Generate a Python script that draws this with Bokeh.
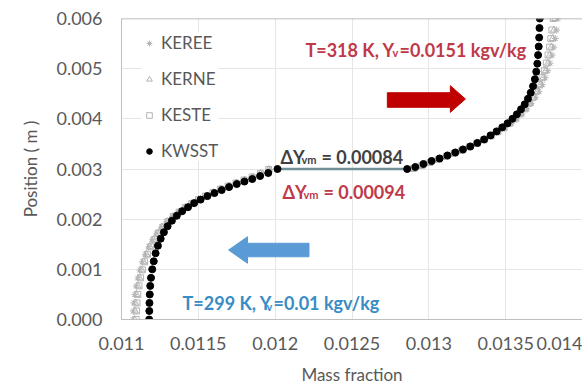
from bokeh.plotting import figure
from bokeh.models import (Legend, LegendItem, Span, Label, Range1d, FixedTicker,
                          PolyAnnotation)
from bokeh.embed import file_html
from bokeh.resources import INLINE

# ---------------- data ----------------
x_ticks = [0.011, 0.0115, 0.012, 0.0125, 0.013, 0.0135, 0.014]
x_tick_labels = ["0.011", "0.0115", "0.012", "0.0125", "0.013", "0.0135", "0.014"]
y_ticks = [0.000, 0.001, 0.002, 0.003, 0.004, 0.005, 0.006]
y_tick_labels = ["0.000", "0.001", "0.002", "0.003", "0.004", "0.005", "0.006"]

kwsst_x = [0.011180, 0.011181, 0.011182, 0.011184, 0.011187, 0.011192, 0.011200, 0.011210,
           0.011222, 0.011237, 0.011255, 0.011276, 0.011300, 0.011328, 0.011360, 0.011395,
           0.011433, 0.011473, 0.011515, 0.011559, 0.011605, 0.011652, 0.011700, 0.011750,
           0.011800, 0.011851, 0.011902, 0.011955, 0.012015,
           0.012859, 0.012912, 0.012965, 0.013018, 0.013070, 0.013121, 0.013172, 0.013222,
           0.013270, 0.013316, 0.013360, 0.013402, 0.013441, 0.013478, 0.013512, 0.013544,
           0.013573, 0.013600, 0.013624, 0.013645, 0.013663, 0.013678, 0.013690, 0.013699,
           0.013706, 0.013711, 0.013715, 0.013718, 0.013720, 0.013722]
kwsst_y = [0.00000, 0.00017, 0.00033, 0.00050, 0.00067, 0.00083, 0.00100, 0.00116,
           0.00132, 0.00147, 0.00161, 0.00174, 0.00186, 0.00197, 0.00207, 0.00216,
           0.00224, 0.00232, 0.00239, 0.00246, 0.00252, 0.00258, 0.00264, 0.00270,
           0.00275, 0.00280, 0.00286, 0.00292, 0.00300,
           0.00300, 0.00304, 0.00310, 0.00316, 0.00321, 0.00327, 0.00333, 0.00339,
           0.00345, 0.00352, 0.00359, 0.00367, 0.00375, 0.00383, 0.00391, 0.00400,
           0.00409, 0.00419, 0.00429, 0.00440, 0.00452, 0.00465, 0.00479, 0.00494,
           0.00510, 0.00527, 0.00544, 0.00562, 0.00581, 0.00600]

gray_y = [0.00000, 0.00017, 0.00033, 0.00050, 0.00067, 0.00083, 0.00099, 0.00115,
          0.00130, 0.00145, 0.00159, 0.00172, 0.00184, 0.00195, 0.00205, 0.00214,
          0.00223, 0.00231, 0.00239, 0.00246, 0.00253, 0.00260, 0.00266, 0.00272,
          0.00278, 0.00284, 0.00291, 0.00299,
          0.00301, 0.00307, 0.00313, 0.00319, 0.00325, 0.00331, 0.00337, 0.00344,
          0.00351, 0.00358, 0.00366, 0.00374, 0.00382, 0.00391, 0.00400, 0.00410,
          0.00420, 0.00431, 0.00443, 0.00455, 0.00468, 0.00482, 0.00496, 0.00511,
          0.00527, 0.00543, 0.00560, 0.00577, 0.00600]

keree_x = [0.011075, 0.011077, 0.011081, 0.011088, 0.011097, 0.011108, 0.011121, 0.011137,
           0.011156, 0.011178, 0.011203, 0.011231, 0.011262, 0.011296, 0.011333, 0.011373,
           0.011415, 0.011459, 0.011505, 0.011553, 0.011602, 0.011652, 0.011703, 0.011754,
           0.011806, 0.011858, 0.011910, 0.011962,
           0.012904, 0.012958, 0.013012, 0.013065, 0.013118, 0.013170, 0.013220, 0.013270,
           0.013318, 0.013365, 0.013410, 0.013453, 0.013495, 0.013534, 0.013571, 0.013605,
           0.013637, 0.013666, 0.013693, 0.013717, 0.013738, 0.013757, 0.013774, 0.013789,
           0.013802, 0.013813, 0.013823, 0.013832, 0.013840]
kerne_x = [0.011085, 0.011087, 0.011091, 0.011097, 0.011105, 0.011116, 0.011129, 0.011144,
           0.011162, 0.011183, 0.011207, 0.011234, 0.011264, 0.011298, 0.011334, 0.011373,
           0.011414, 0.011457, 0.011502, 0.011549, 0.011598, 0.011647, 0.011698, 0.011749,
           0.011801, 0.011853, 0.011906, 0.011960,
           0.012902, 0.012956, 0.013010, 0.013063, 0.013115, 0.013167, 0.013217, 0.013266,
           0.013314, 0.013360, 0.013405, 0.013448, 0.013489, 0.013528, 0.013564, 0.013598,
           0.013629, 0.013658, 0.013684, 0.013707, 0.013727, 0.013745, 0.013761, 0.013775,
           0.013787, 0.013797, 0.013806, 0.013814, 0.013822]
keste_x = [0.011095, 0.011097, 0.011101, 0.011106, 0.011114, 0.011124, 0.011136, 0.011151,
           0.011169, 0.011190, 0.011213, 0.011240, 0.011270, 0.011302, 0.011337, 0.011375,
           0.011415, 0.011457, 0.011501, 0.011547, 0.011595, 0.011644, 0.011694, 0.011745,
           0.011797, 0.011850, 0.011904, 0.011958,
           0.012900, 0.012954, 0.013008, 0.013061, 0.013113, 0.013164, 0.013214, 0.013263,
           0.013311, 0.013357, 0.013402, 0.013445, 0.013486, 0.013524, 0.013560, 0.013594,
           0.013625, 0.013653, 0.013678, 0.013700, 0.013720, 0.013737, 0.013752, 0.013765,
           0.013776, 0.013786, 0.013794, 0.013801, 0.013810]

# jump of the KWSST profile at the interface (last point of lower branch, first of upper)
jump_left = 28
jump_right = 29

FONT = "Lato"
GRAY_TXT = "#595959"
MARK_GRAY = "#b4b4b4"

p = figure(width=582, height=391, output_backend="svg", toolbar_location=None,
           x_range=Range1d(0.011, 0.014), y_range=Range1d(0.0, 0.006),
           min_border_left=121, min_border_right=0, min_border_top=18,
           min_border_bottom=72, background_fill_color="white",
           border_fill_color="white", outline_line_color=None)

# axes
for ax, ticks, labels in ((p.xaxis[0], x_ticks, x_tick_labels), (p.yaxis[0], y_ticks, y_tick_labels)):
    ax.ticker = FixedTicker(ticks=ticks)
    ax.major_label_overrides = {t: l for t, l in zip(ticks, labels)}
    ax.major_tick_out = 0
    ax.major_tick_in = 0
    ax.minor_tick_out = 0
    ax.minor_tick_in = 0
    ax.axis_line_color = "#bfbfbf"
    ax.major_label_text_font = FONT
    ax.major_label_text_font_size = "18px"
    ax.major_label_text_color = GRAY_TXT
    ax.axis_label_text_font = FONT
    ax.axis_label_text_font_size = "17px"
    ax.axis_label_text_font_style = "normal"
    ax.axis_label_text_color = GRAY_TXT

p.xaxis.axis_label = "Mass fraction"
p.yaxis.axis_label = "Position ( m )"
p.xaxis.major_label_standoff = 17
p.xaxis.axis_label_standoff = 11
p.yaxis.major_label_standoff = 19
p.yaxis.axis_label_standoff = 12

p.xgrid.ticker = FixedTicker(ticks=x_ticks)
p.ygrid.ticker = FixedTicker(ticks=y_ticks)
p.grid.grid_line_color = "#e6e6e6"
p.grid.grid_line_width = 1

p.add_layout(Span(location=y_ticks[-1], dimension="width", line_color="#a6a6a6", line_width=1.5))

# series
r_keree = p.scatter(keree_x, gray_y, marker="asterisk", size=7, line_color=MARK_GRAY, line_width=1)
r_kerne = p.scatter(kerne_x, gray_y, marker="triangle", size=7, line_color=MARK_GRAY,
                    fill_color=None, line_width=1)
r_keste = p.scatter(keste_x, gray_y, marker="square", size=6, line_color=MARK_GRAY,
                    fill_color=None, line_width=1)
p.line([kwsst_x[jump_left], kwsst_x[jump_right]], [kwsst_y[jump_left], kwsst_y[jump_right]],
       line_color="#6f9098", line_width=2.5)
r_kwsst = p.scatter(kwsst_x, kwsst_y, marker="circle", size=7, line_color="black",
                    fill_color="black")

legend = Legend(items=[LegendItem(label="KEREE", renderers=[r_keree]),
                       LegendItem(label="KERNE", renderers=[r_kerne]),
                       LegendItem(label="KESTE", renderers=[r_keste]),
                       LegendItem(label="KWSST", renderers=[r_kwsst])],
                location=(21, 158), padding=5, spacing=15, glyph_width=14, glyph_height=20,
                label_height=20, label_standoff=5, label_text_font=FONT,
                label_text_font_size="17px", label_text_color=GRAY_TXT,
                background_fill_color="white", background_fill_alpha=1.0,
                border_line_color=None)
p.add_layout(legend)

# arrows
p.add_layout(PolyAnnotation(
    xs=[0.01273, 0.01314, 0.01314, 0.013238, 0.01314, 0.01314, 0.01273],
    ys=[0.00452, 0.00452, 0.00466, 0.004395, 0.00413, 0.00423, 0.00423],
    fill_color="#c00000", fill_alpha=1.0, line_color="#c00000", line_alpha=1.0))
p.add_layout(PolyAnnotation(
    xs=[0.011697, 0.01182, 0.01182, 0.01222, 0.01222, 0.01182, 0.01182],
    ys=[0.001385, 0.00165, 0.00152, 0.00152, 0.00125, 0.00125, 0.00112],
    fill_color="#5b9bd5", fill_alpha=1.0, line_color="#5b9bd5", line_alpha=1.0))

# text annotations (main text, subscript, remainder)
def add_text(x, y, txt, color, size="18px"):
    p.add_layout(Label(x=x, y=y, text=txt, text_color=color, text_font=FONT,
                       text_font_size=size, text_font_style="bold",
                       text_baseline="alphabetic", text_align="left"))

RED = "#c0394a"
BLUE = "#3a8cc4"
DARK = "#404040"

add_text(0.012197, 0.005382, "T=318 K, Y", RED)
add_text(0.012763, 0.005322, "v", RED, "11px")
add_text(0.012809, 0.005382, "=0.0151 kgv/kg", RED)

add_text(0.011397, 0.000319, "T=299 K, Y", BLUE)
add_text(0.011943, 0.000259, "v", BLUE, "11px")
add_text(0.011989, 0.000319, "=0.01 kgv/kg", BLUE)

add_text(0.012034, 0.003249, "ΔY", DARK)
add_text(0.012171, 0.003189, "vm", DARK, "11px")
add_text(0.012301, 0.003249, "= 0.00084", DARK)

add_text(0.012047, 0.002551, "ΔY", RED)
add_text(0.012184, 0.002491, "vm", RED, "11px")
add_text(0.012314, 0.002551, "= 0.00094", RED)

open("out.html", "w").write(file_html(p, INLINE))
